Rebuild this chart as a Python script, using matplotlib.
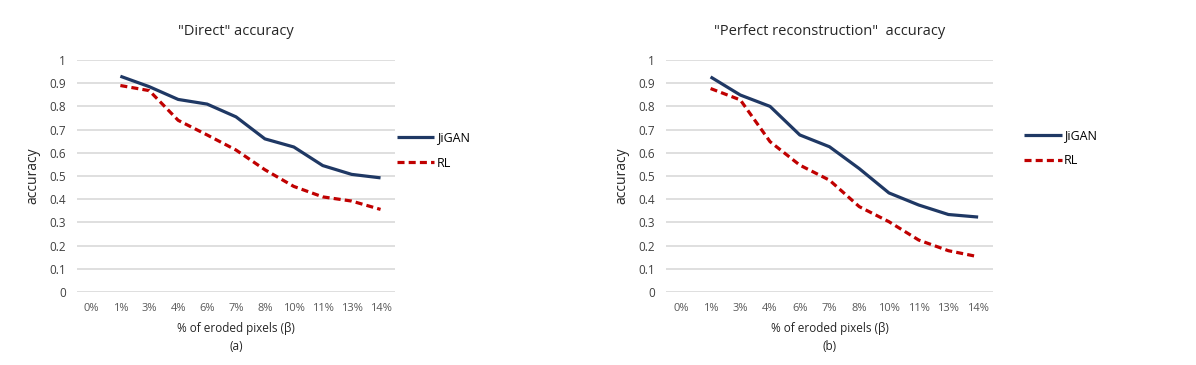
import matplotlib.pyplot as plt

# categorie (% di pixel erosi)
categories = ["0%", "1%", "3%", "4%", "6%", "7%", "8%", "10%", "11%", "13%", "14%"]

# "Direct" accuracy (0% vuoto)
direct_jigan = [None, 0.93, 0.885, 0.83, 0.81, 0.755, 0.66, 0.625, 0.545, 0.507, 0.492]
direct_rl = [None, 0.89, 0.868, 0.74, 0.677, 0.612, 0.527, 0.455, 0.41, 0.392, 0.356]

# "Perfect reconstruction" accuracy
perfect_jigan = [None, 0.927, 0.849, 0.80, 0.677, 0.626, 0.532, 0.427, 0.375, 0.334, 0.323]
perfect_rl = [None, 0.877, 0.828, 0.648, 0.547, 0.482, 0.368, 0.303, 0.224, 0.178, 0.152]

y_ticks = [0, 0.1, 0.2, 0.3, 0.4, 0.5, 0.6, 0.7, 0.8, 0.9, 1]
y_labels = ["0", "0.1", "0.2", "0.3", "0.4", "0.5", "0.6", "0.7", "0.8", "0.9", "1"]

plt.rcParams['font.family'] = ['Open Sans', 'DejaVu Sans']

NAVY = "#1F3864"
RED = "#C00000"


def to_xy(values):
    xs = [i for i, v in enumerate(values) if v is not None]
    ys = [v for v in values if v is not None]
    return xs, ys


def draw_panel(ax, title, jigan, rl, sub, legend_x, legend_y):
    for y in y_ticks:
        ax.axhline(y, color="#D9D9D9", linewidth=1.2, zorder=0)
    xs, ys = to_xy(jigan)
    ax.plot(xs, ys, color=NAVY, linewidth=2.3, label="JiGAN", solid_capstyle="butt")
    xs, ys = to_xy(rl)
    ax.plot(xs, ys, color=RED, linewidth=2.3, linestyle=(0, (2.2, 1.3)), label="RL",
            dash_capstyle="butt")
    ax.set_xlim(-0.5, len(categories) - 0.5)
    ax.set_ylim(0, 1)
    ax.set_xticks(range(len(categories)))
    ax.set_xticklabels(categories, color="#595959", fontsize=8)
    ax.set_yticks(y_ticks)
    ax.set_yticklabels(y_labels, color="#404040", fontsize=8.5)
    ax.tick_params(length=0, pad=8)
    for s in ax.spines.values():
        s.set_visible(False)
    ax.set_title(title, fontsize=10.5, color="#262626", pad=18)
    ax.set_ylabel("accuracy", fontsize=10, color="#262626", labelpad=6)
    ax.set_xlabel("% of eroded pixels (β)\n" + sub, fontsize=8.5, color="#262626",
                  linespacing=1.5, labelpad=6)
    ax.legend(loc="center left", bbox_to_anchor=(legend_x, legend_y), frameon=False,
              fontsize=9, handlelength=3.0, handletextpad=0.2, labelspacing=1.0,
              borderaxespad=0, borderpad=0)


fig = plt.figure(figsize=(11.96, 3.65), dpi=100)
ax1 = fig.add_axes([77 / 1196, 1 - 292 / 365, 318 / 1196, 232 / 365])
ax2 = fig.add_axes([666 / 1196, 1 - 292 / 365, 327 / 1196, 232 / 365])

draw_panel(ax1, '"Direct" accuracy', direct_jigan, direct_rl, "(a)", 1.005, 0.61)
draw_panel(ax2, '"Perfect reconstruction"  accuracy', perfect_jigan, perfect_rl, "(b)", 1.095, 0.62)

fig.savefig("out.png", dpi=100, facecolor="white")
